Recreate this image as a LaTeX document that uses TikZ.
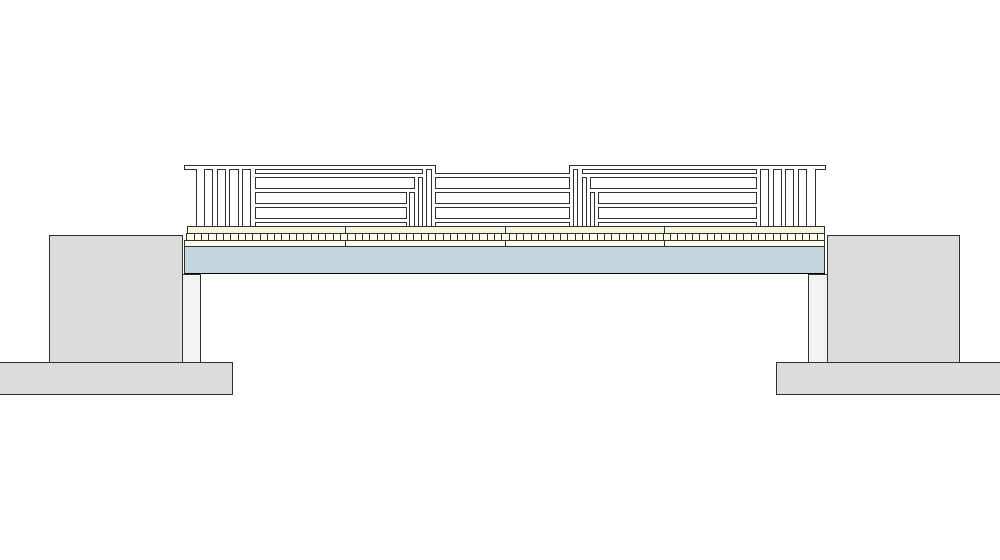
\documentclass[tikz,border=0pt]{standalone}
\usepackage{xcolor}
\definecolor{wallgray}{HTML}{DCDCDC}
\definecolor{postgray}{HTML}{F3F3F3}
\definecolor{deckblue}{HTML}{C5D5DE}
\definecolor{creamy}{HTML}{F6F6E0}
\definecolor{tilecream}{HTML}{FDFDEC}
\definecolor{edgegray}{HTML}{303030}

\begin{document}
\begin{tikzpicture}[
x=0.75pt, y=-0.75pt,
part/.style = {draw=edgegray, line width=0.7pt},
fin/.style = {draw=edgegray, line width=0.7pt, fill=white}
                ]
    \useasboundingbox (0,0) rectangle (1000,560);

    % walls, footings and posts
    \foreach \x/\y/\X/\Y in {49/235/182.6/362, 827/235/959/362, -2/362/232.6/394, 776/362/1002/394}
        \draw[part, fill=wallgray] (\x,\y) rectangle (\X,\Y);
    \foreach \x/\X in {182.6/200.6, 808/827}
        \draw[part, fill=postgray] (\x,274) rectangle (\X,362);

    % deck
    \draw[part, fill=deckblue] (184.6,246) rectangle (824.6,273);
    \draw[black, line width=1.3pt] (184.6,273.5) -- (824.6,273.5);

    % cream bands, one piece for each unit
    \foreach \x/\X/\u/\U in {187/345/184.6/345, 345/505/345/505, 505/664/505/664, 664/824.4/664/824.6}{
        \draw[part, fill=creamy] (\x,226) rectangle (\X,233);
        \draw[part, fill=tilecream] (\u,240) rectangle (\U,246);
    }
    \draw[part, fill=tilecream] (186.6,233) rectangle (824.4,240.5);
    \foreach \k in {0,...,85}
        \draw[part] (194+7.33*\k,233) -- (194+7.33*\k,240.5);

    % outer profile of the extrusion
    \draw[part, fill=white] (196.5,226) -- (196.5,169) -- (184.6,169) -- (184.6,165) -- (435,165)
        -- (435,173.2) -- (569.5,173.2) -- (569.5,165) -- (825.6,165) -- (825.6,169)
        -- (815,169) -- (815,226) -- cycle;

    % vertical fins
    \foreach \x/\X/\y in {204.5/212.5/169, 217/225.5/169, 229.5/238/169, 242.5/250.5/169,
        409.5/414/192, 418/422.5/177.5, 426.5/431/169,
        573/577.5/169, 582/586/177.5, 590.5/594.5/192,
        760.5/768.5/169, 773/781/169, 785.5/793.5/169, 798/806/169}
        \draw[fin] (\x,226) -- (\x,\y) -- (\X,\y) -- (\X,226);

    % horizontal slots
    \foreach \x/\y/\X/\Y in {255/169/422/173.2, 255/177.5/414/188, 255/192/406/203, 255/207/406/218,
        435/177.5/569.5/188, 435/192/569.5/203, 435/207/569.5/218,
        582/169/756/173.2, 590.5/177.5/756/188, 598.5/192/756/203, 598.5/207/756/218}
        \draw[fin] (\x,\y) rectangle (\X,\Y);
    \foreach \x/\X in {255/406, 435/569.5, 598.5/756}
        \draw[fin] (\x,226) -- (\x,222) -- (\X,222) -- (\X,226);
\end{tikzpicture}
\end{document}
